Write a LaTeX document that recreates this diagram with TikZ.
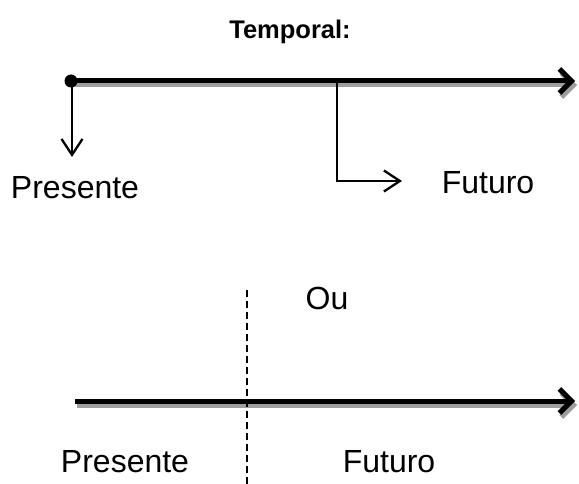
\documentclass[tikz,border=0pt]{standalone}
\usepackage{fontspec}
\setmainfont{Liberation Sans}
\usetikzlibrary{arrows.meta}
\begin{document}
\begin{tikzpicture}[x=1pt,y=-1pt,
  lbl/.style={font=\fontsize{32}{38}\selectfont, inner sep=0pt},
  ttl/.style={font=\fontsize{25.5}{30}\selectfont\bfseries, inner sep=0pt},
  bigline/.style={line width=5pt, -{Straight Barb[length=12pt,width=24pt,line width=5pt]}, line join=round},
  shadowline/.style={line width=5pt, draw=black!38, -{Straight Barb[length=12pt,width=24pt,line width=5pt]}, line join=round},
  thinarrow/.style={line width=2.3pt, -{Straight Barb[length=16pt,width=21pt,line width=2.3pt]}},
  dashline/.style={line width=2.3pt, dash pattern=on 7pt off 4pt}]
\useasboundingbox (0,0) rectangle (579,484);
% title
\node[ttl] (title) at (290,32) {Temporal:};
% top timeline
\coordinate (t0) at (71,81);
\coordinate (t1) at (575,81);
\coordinate (t0s) at (73,85);
\coordinate (t1s) at (577,85);
\draw[shadowline] (t0s) -- (t1s);
\draw[bigline] (t0) -- (t1);
\fill (t0) circle (6.5pt);
% labels top
\node[lbl] (pres1) at (75,188) {Presente};
\node[lbl] (fut1) at (488,183) {Futuro};
\coordinate (d0) at (72,81);
\coordinate (d1) at (72,157);
\draw[thinarrow] (d0) -- (d1);
\coordinate (e0) at (337,81);
\coordinate (e1) at (337,181);
\coordinate (e2) at (402,181);
\draw[thinarrow] (e0) -- (e1) -- (e2);
% bottom
\node[lbl] (ou) at (327,298) {Ou};
\coordinate (b0) at (75,401);
\coordinate (b1) at (575,401);
\coordinate (b0s) at (77,405);
\coordinate (b1s) at (577,405);
\draw[shadowline] (b0s) -- (b1s);
\draw[bigline] (b0) -- (b1);
\coordinate (v0) at (247,290);
\coordinate (v1) at (247,484);
\draw[dashline] (v0) -- (v1);
\node[lbl] (pres2) at (125,462) {Presente};
\node[lbl] (fut2) at (389,462) {Futuro};
\end{tikzpicture}
\end{document}
